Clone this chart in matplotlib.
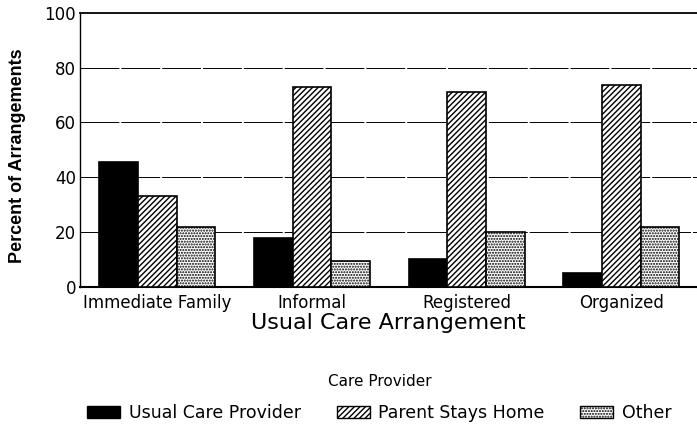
import matplotlib
matplotlib.use("Agg")
import matplotlib.pyplot as plt
import numpy as np
from matplotlib.patches import Patch

categories = ["Immediate Family", "Informal", "Registered", "Organized"]
series_names = ["Usual Care Provider", "Parent Stays Home", "Other"]
usual_care = [45.5, 18, 10, 5]
parent_home = [33, 73, 71, 73.5]
other = [22, 9.5, 20, 22]
yticks = [0, 20, 40, 60, 80, 100]

plt.rcParams['font.family'] = ['DejaVu Sans']
plt.rcParams['hatch.linewidth'] = 1.0

fig = plt.figure(figsize=(6.97, 4.25), dpi=100)
ax = fig.add_axes([0.115, 0.325, 0.885, 0.645])

x = np.arange(len(categories))
w = 0.25
styles = [dict(color='black', hatch=None),
          dict(color='white', hatch='//////'),
          dict(color='white', hatch='......')]
for i, vals in enumerate([usual_care, parent_home, other]):
    st = styles[i]
    ax.bar(x + (i - 1) * w, vals, w, facecolor=st['color'], edgecolor='black',
           hatch=st['hatch'], linewidth=1.2, zorder=3)

ax.set_xlim(-0.5, 3.49)
ax.set_ylim(0, 100)
ax.set_yticks(yticks)
ax.set_yticklabels([str(t) for t in yticks], fontsize=12)
ax.set_xticks(x)
ax.set_xticklabels(categories, fontsize=12)
ax.tick_params(axis='x', length=0, pad=5)
ax.tick_params(axis='y', length=0, pad=3)
for t in [20, 40, 60, 80]:
    ax.axhline(t, color='black', linewidth=0.7, linestyle=(0, (40, 2)), zorder=1)
ax.spines['right'].set_visible(False)
ax.spines['top'].set_linewidth(1.3)
ax.spines['left'].set_linewidth(1.0)
ax.spines['bottom'].set_linewidth(1.5)
ax.set_ylabel("Percent of Arrangements", fontsize=13, fontweight='bold',
              family='Liberation Sans')
ax.yaxis.set_label_coords(-0.087, 0.48)
ax.set_xlabel("Usual Care Arrangement", fontsize=16, labelpad=1)

handles = [Patch(facecolor='black', edgecolor='black'),
           Patch(facecolor='white', edgecolor='black', hatch='//////'),
           Patch(facecolor='white', edgecolor='black', hatch='......')]
fig.text(0.545, 0.103, "Care Provider", ha='center', va='center', fontsize=11)
fig.legend(handles, series_names, loc='center', bbox_to_anchor=(0.5445, 0.028),
           ncol=3, frameon=False, fontsize=12.5, handlelength=1.9, handleheight=0.75,
           columnspacing=2.05, handletextpad=0.5, borderpad=0.2)

fig.savefig("out.png", dpi=100)
